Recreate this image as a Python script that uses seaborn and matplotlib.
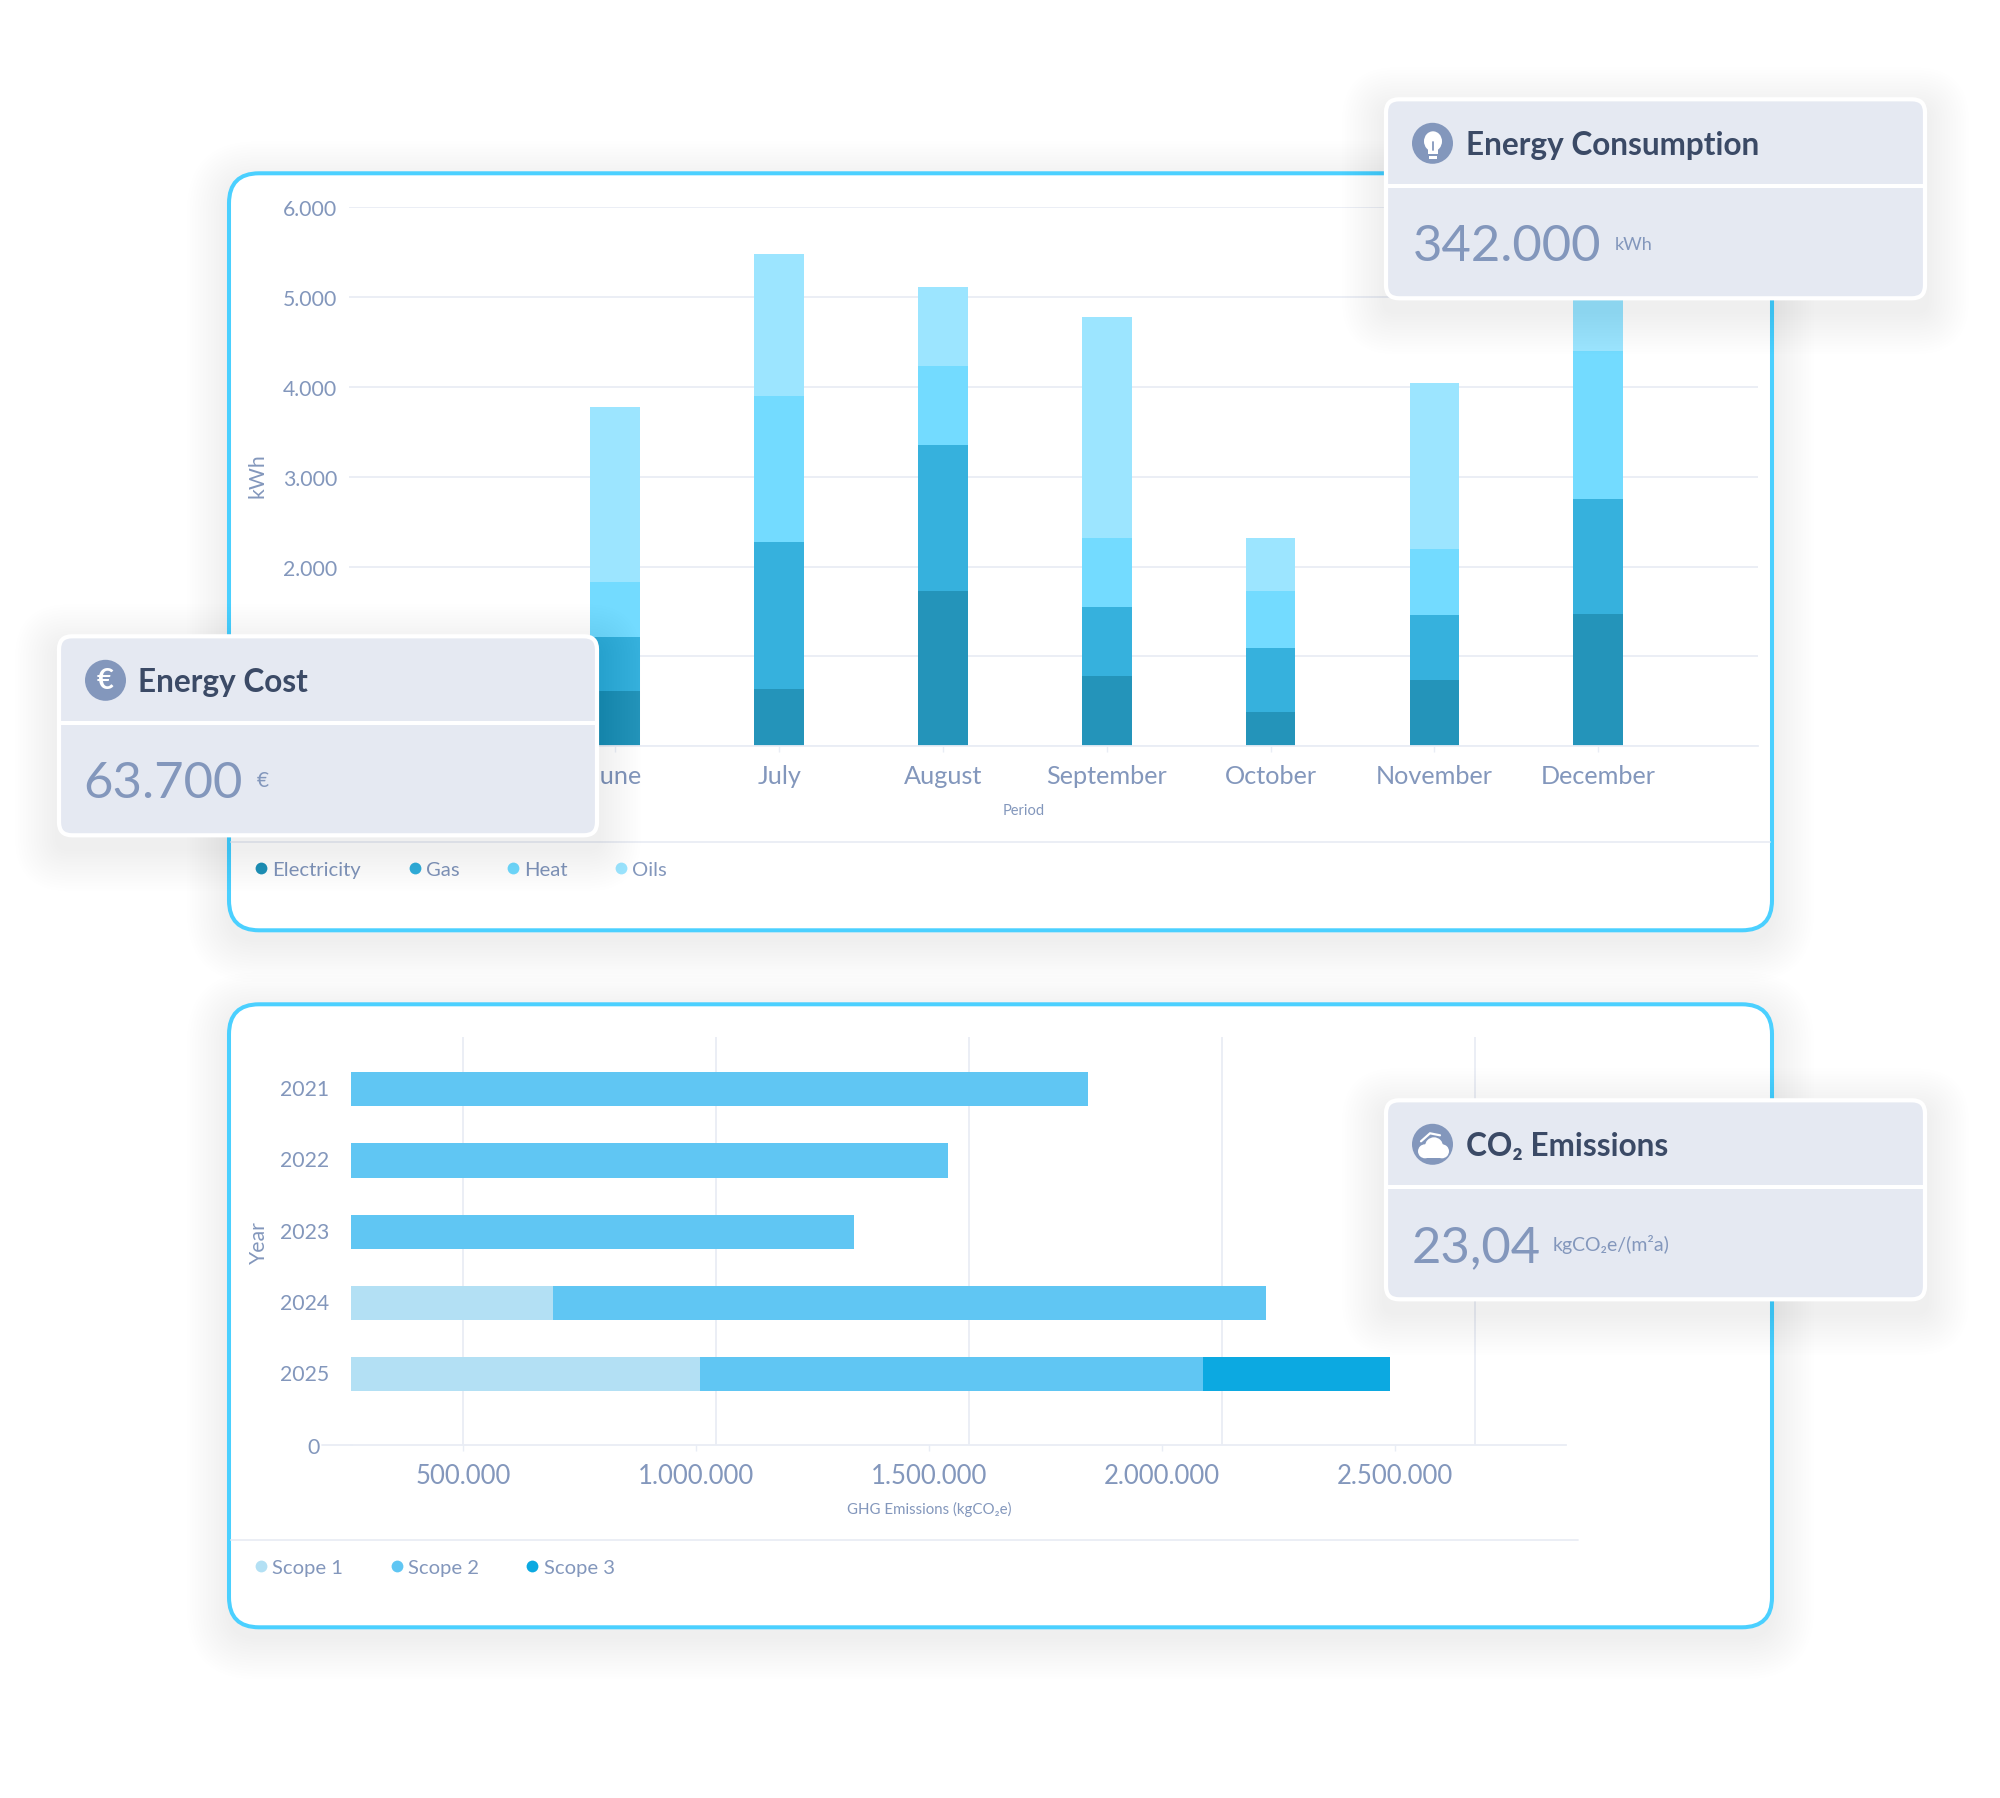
import numpy as np
import matplotlib
matplotlib.use("Agg")
import matplotlib.pyplot as plt
from matplotlib.lines import Line2D
from matplotlib.patches import Circle, Ellipse, FancyBboxPatch, Rectangle
from matplotlib.transforms import ScaledTranslation
import seaborn as sns

# %% data
months = ["June", "July", "August", "September", "October", "November", "December"]
electricity = [610, 640, 1730, 780, 383, 738, 1475]
gas = [610, 1630, 1620, 766, 709, 723, 1277]
heat = [610, 1630, 880, 766, 638, 739, 1645]
oils = [1940, 1575, 875, 2468, 582, 1843, 653]
kwh_ticks = [0, 1000, 2000, 3000, 4000, 5000, 6000]
kwh_labels = ["0", "1.000", "2.000", "3.000", "4.000", "5.000", "6.000"]

years = ["2021", "2022", "2023", "2024", "2025"]
scope1 = [0, 0, 0, 694000, 1009000]
scope2 = [1842000, 1540000, 1339000, 1530000, 1079000]
scope3 = [0, 0, 0, 0, 402000]
ghg_ticks = [500000, 1000000, 1500000, 2000000, 2500000]
ghg_labels = ["500.000", "1.000.000", "1.500.000", "2.000.000", "2.500.000"]
ghg_grid = [500000, 1043000, 1586000, 2129000, 2672000]

# %% style
W, H = 2000, 1799
DY = 1.3  # everything sits a hair lower than the first pass
border = "#4BD0FF"
card_bg = "#E5E9F2"
navy = "#3B4A66"
slate = "#8397BC"
grid_col = "#E9EDF5"
energy_cols = ["#2494BA", "#36B1DD", "#73DBFF", "#9CE5FF"]
scope_cols = ["#B3E0F4", "#60C6F3", "#0CA9E1"]

sns.set_theme(style="white")
plt.rcParams["font.family"] = ["Lato", "DejaVu Sans"]

fig = plt.figure(figsize=(W / 100, H / 100), dpi=100, facecolor="white")


def px_axes(left, top, right, bottom, z):
    top, bottom = top + DY, bottom + DY
    return fig.add_axes([left / W, 1 - bottom / H, (right - left) / W, (bottom - top) / H], zorder=z)


def canvas(z):
    a = fig.add_axes([0, 0, 1, 1], zorder=z)
    a.set_xlim(0, W)
    a.set_ylim(H - DY, -DY)
    a.axis("off")
    a.patch.set_alpha(0)
    return a


def soft_shadow(a, x0, y0, x1, y1, radius, drop, spread, alpha):
    # stacked rounded boxes stand in for a blurred shadow
    for s in np.linspace(spread, 2, 16):
        a.add_patch(FancyBboxPatch((x0 - s, y0 - s + drop), x1 - x0 + 2 * s, y1 - y0 + 2 * s,
                                   boxstyle=f"round,pad=0,rounding_size={radius + s}",
                                   fc="black", ec="none", alpha=alpha))


def main_card(a, x0, y0, x1, y1):
    soft_shadow(a, x0, y0, x1, y1, 28, 10, 42, 0.002)
    a.add_patch(FancyBboxPatch((x0, y0), x1 - x0, y1 - y0, boxstyle="round,pad=0,rounding_size=30",
                               fc="white", ec=border, lw=2.9))


def float_card(a, x0, y0, x1, y1, title, value, unit, value_x, unit_x, unit_size):
    soft_shadow(a, x0, y0, x1, y1, 12, 12, 42, 0.003)
    a.add_patch(FancyBboxPatch((x0 + 2, y0 + 2), x1 - x0 - 4, y1 - y0 - 4, boxstyle="round,pad=0,rounding_size=13",
                               fc=card_bg, ec="white", lw=3))
    a.add_patch(Rectangle((x0 + 3, y0 + 87), x1 - x0 - 6, 4, fc="white", ec="none"))
    a.add_patch(Circle((x0 + 48.5, y0 + 46), 20.5, fc=slate, ec="none"))
    a.text(x0 + 81.5, y0 + 47.5, title, color=navy, fontsize=22.7, fontweight="bold", va="center", ha="left")
    a.text(x0 + value_x, y0 + 162.5, value, color=slate, fontsize=36.5, va="baseline", ha="left")
    a.text(x0 + unit_x, y0 + 152, unit, color=slate, fontsize=unit_size, va="baseline", ha="left")


def energy_legend(ax, names, cols, y):
    handles = [Line2D([], [], ls="", marker="o", ms=8.5, color=c, mec="none") for c in cols]
    ax.legend(handles, names, loc="center left", bbox_to_anchor=(253, y), bbox_transform=back.transData,
              ncols=len(names), frameon=False, fontsize=14.6, labelcolor=slate, borderpad=0, borderaxespad=0,
              handlelength=0.8, handletextpad=0.16, columnspacing=2.23)


# %% card backgrounds
back = canvas(0)
main_card(back, 229, 173, 1772, 930)
main_card(back, 229, 1004, 1772, 1627)
back.plot([231, 1770], [842, 842], color=grid_col, lw=1.3)
back.plot([231, 1578], [1540, 1540], color=grid_col, lw=1.3)
back.plot([322, 352], [1445, 1445], color=grid_col, lw=1.3)

# %% stacked columns, tallest stack drawn first
ax = px_axes(349, 206.6, 1757.6, 746, 1)
ax.patch.set_alpha(0)
stack = np.cumsum([electricity, gas, heat, oils], axis=0)
for tops, col in zip(stack[::-1], energy_cols[::-1]):
    sns.barplot(x=months, y=tops, color=col, saturation=1, width=0.304, linewidth=0, ax=ax)
ax.set_xlim(-1.626, 6.973)
ax.set_ylim(0, 6000)
ax.set_yticks(kwh_ticks, kwh_labels)
ax.grid(axis="y", color=grid_col, lw=1.3)
ax.set_axisbelow(True)
sns.despine(ax=ax, left=True, top=True, right=True)
ax.spines["bottom"].set_color(grid_col)
ax.spines["bottom"].set_linewidth(1.3)
ax.tick_params(axis="y", length=0, pad=8.5, labelsize=15.3, labelcolor=slate)
ax.tick_params(axis="x", length=4, width=1, color=grid_col, pad=8.5, labelsize=18.2, labelcolor=slate, bottom=True)
ax.set_xlabel("Period", color=slate, fontsize=10.5, x=0.479, labelpad=12)
ax.set_ylabel("kWh", color=slate, fontsize=15.3, labelpad=0)
ax.yaxis.set_label_coords(-0.0582, 0.504)
energy_legend(ax, ["Electricity", "Gas", "Heat", "Oils"], energy_cols, 869)

# %% stacked horizontal bars, longest stack drawn first
bx = px_axes(351.4, 1037, 1566, 1445, 1)
bx.patch.set_alpha(0)
scope_stack = np.cumsum([scope1, scope2, scope3], axis=0)
for ends, col in zip(scope_stack[::-1], scope_cols[::-1]):
    sns.barplot(y=years, x=ends, orient="y", color=col, saturation=1, width=0.478, linewidth=0, ax=bx)
bx.set_xlim(260500, 2867000)
bx.set_ylim(5, -0.73)
bx.vlines(ghg_grid, -0.73, 5, color=grid_col, lw=1.3, zorder=0)
bx.set_xticks(ghg_ticks, ghg_labels)
bx.set_yticks(range(6), years + ["0"])
sns.despine(ax=bx, left=True, top=True, right=True)
bx.spines["bottom"].set_color(grid_col)
bx.spines["bottom"].set_linewidth(1.3)
bx.tick_params(axis="y", length=0, pad=16.3, labelsize=15.3, labelcolor=slate)
bx.tick_params(axis="x", length=4, width=1, color=grid_col, pad=8.8, labelsize=18.5, labelcolor=slate, bottom=True)
# years sit slightly above their bars, the "0" stands further left
for lab in bx.get_yticklabels()[:-1]:
    lab.set_transform(lab.get_transform() + ScaledTranslation(0, 0.02, fig.dpi_scale_trans))
zero_label = bx.get_yticklabels()[-1]
zero_label.set_transform(zero_label.get_transform() + ScaledTranslation(-0.09, 0, fig.dpi_scale_trans))
bx.set_xlabel("GHG Emissions (kgCO₂e)", color=slate, fontsize=10.8, x=0.476, labelpad=9)
bx.set_ylabel("Year", color=slate, fontsize=15.3, labelpad=0)
bx.yaxis.set_label_coords(-0.0679, 0.5)
energy_legend(bx, ["Scope 1", "Scope 2", "Scope 3"], scope_cols, 1567.6)

# %% floating cards
front = canvas(5)
float_card(front, 1384, 97, 1927, 300, "Energy Consumption", "342.000", "kWh", 29, 231, 13)
float_card(front, 57, 634, 599, 837, "Energy Cost", "63.700", "€", 26, 200, 15)
float_card(front, 1384, 1098, 1927, 1301, "CO₂ Emissions", "23,04", "kgCO₂e/(m²a)", 28, 169, 14)

# bulb icon
front.add_patch(Ellipse((1433, 141), 18, 20, fc="white", ec="none"))
front.add_patch(Rectangle((1428, 148), 10, 6, fc="white", ec="none"))
front.add_patch(Rectangle((1429, 155.5), 8, 3, fc="white", ec="none"))
front.plot([1433, 1433], [142, 150], color=slate, lw=1.3)
# euro icon
front.text(105.5, 680, "€", color="white", fontsize=21, fontweight="bold", ha="center", va="center")
# cloud icon
for cx, cy, r in [(1425, 1151, 7), (1434, 1146, 9), (1442, 1151, 7)]:
    front.add_patch(Circle((cx, cy), r, fc="white", ec="none"))
front.add_patch(Rectangle((1425, 1149), 17, 9, fc="white", ec="none"))
front.plot([1421, 1430, 1440], [1141, 1133, 1135], color="white", lw=1.6)

fig.savefig("out.png", dpi=100)
